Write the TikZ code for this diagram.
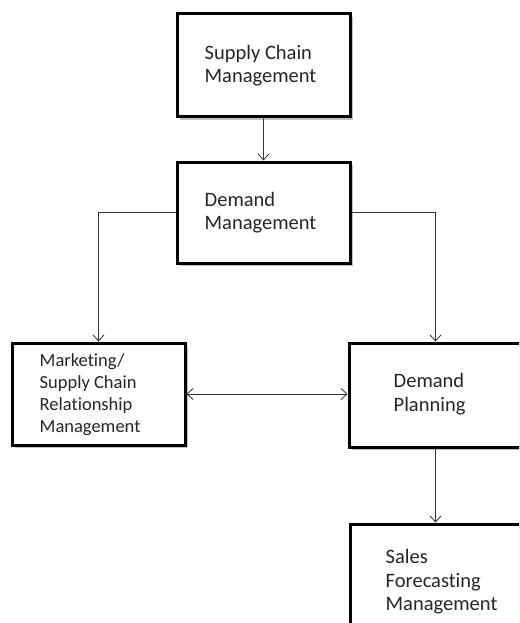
\documentclass[tikz,border=0pt]{standalone}
\usepackage{fontspec}
\setmainfont{Carlito}[Ligatures=NoCommon]
\usetikzlibrary{arrows.meta,shadows}
\begin{document}
\begin{tikzpicture}[x=1pt,y=-1pt,
  box/.style={draw=black, line width=3pt, fill=white, rectangle,
    minimum width=173pt, inner sep=0pt,
    drop shadow={shadow xshift=2.5pt, shadow yshift=-3pt, opacity=0.35, fill=black!70}},
  boxtext/.style={anchor=west, align=left, text=black!85, inner sep=0pt,
    font=\fontsize{20.5}{23.5}\selectfont},
  smalltext/.style={boxtext, font=\fontsize{18.5}{22}\selectfont},
  barb/.tip={Straight Barb[length=6pt,width=11pt,line width=0.8pt]},
  link/.style={draw=black!80, line width=0.8pt, -{barb}},
  dlink/.style={draw=black!80, line width=0.8pt, {barb}-{barb}}]
\useasboundingbox (0,0) rectangle (519,623);
\clip (0,0) rectangle (519,623);
\fill[white] (0,0) rectangle (519,623);

% the five management boxes
\node[box, minimum height=103pt] (scm) at (263.5,65.5) {};
\node[box, minimum height=101pt] (dm) at (263.5,212.5) {};
\node[box, minimum height=102pt] (mkt) at (98.5,394) {};
\node[box, minimum height=104pt] (dp) at (435.5,395) {};
\node[box, minimum height=112pt] (sfm) at (436.5,580) {};

% their labels, set flush left inside each box
\node[boxtext] (scmT) at ([xshift=29pt]scm.west) {Supply Chain\\Management};
\node[boxtext] (dmT) at ([xshift=29pt]dm.west) {Demand\\Management};
\node[smalltext] (mktT) at ([xshift=29pt,yshift=-1pt]mkt.west)
  {Marketing/\\Supply Chain\\Relationship\\Management};
\node[boxtext] (dpT) at ([xshift=46pt,yshift=1pt]dp.west) {Demand\\Planning};
\node[boxtext] (sfmT) at ([xshift=37pt,yshift=-2pt]sfm.west) {Sales\\Forecasting\\Management};

% connectors
\draw[link] (scm.south) -- (dm.north);
\draw[link] (dm.west) -| (mkt.north);
\draw[link] (dm.east) -| (dp.north);
\draw[dlink] (mkt.east) -- (mkt.east -| dp.west);
\draw[link] (dp.south) -- (dp.south |- sfm.north);
\end{tikzpicture}
\end{document}
